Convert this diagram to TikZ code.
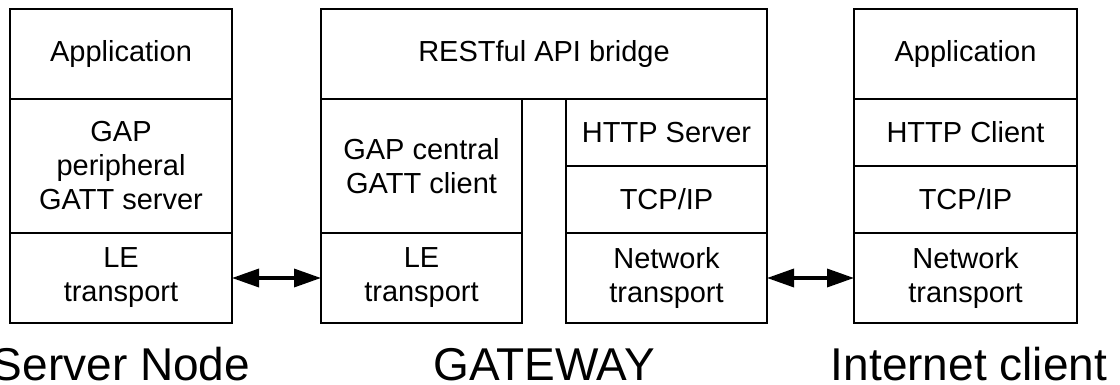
\documentclass[tikz,border=0pt]{standalone}
\usepackage{fontspec}
\setmainfont{Liberation Sans}
\usetikzlibrary{arrows.meta}
\begin{document}
\begin{tikzpicture}[x=1pt,y=-1pt,
  layer/.style={draw, line width=1.2pt, inner sep=0pt, outer sep=0pt, align=center,
    font=\fontsize{29}{34}\selectfont},
  link/.style={line width=3.5pt, {Triangle[length=27pt,width=18pt]}-{Triangle[length=27pt,width=18pt]}},
  title/.style={font=\fontsize{46}{52}\selectfont, anchor=base, inner sep=0pt, outer sep=0pt}]
\useasboundingbox (0,0) rectangle (1120,385);
% Server node
\node[layer, minimum width=222pt, minimum height=90pt]  (sapp) at (121,54)  {Application};
\node[layer, minimum width=222pt, minimum height=134pt] (sgap) at (121,166) {GAP\\peripheral\\GATT server};
\node[layer, minimum width=222pt, minimum height=90pt]  (sle)  at (121,278) {LE\\transport};
% Gateway
\node[layer, minimum width=446pt, minimum height=90pt]  (grest) at (544,54)    {RESTful API bridge};
\node[layer, minimum width=201pt, minimum height=134pt] (ggap)  at (421.5,166) {GAP central\\GATT client};
\node[layer, minimum width=201pt, minimum height=90pt]  (gle)   at (421.5,278) {LE\\transport};
\node[layer, minimum width=201pt, minimum height=67pt]  (ghttp) at (666.5,132.5) {HTTP Server};
\node[layer, minimum width=201pt, minimum height=67pt]  (gtcp)  at (666.5,199.5) {TCP/IP};
\node[layer, minimum width=201pt, minimum height=90pt]  (gnet)  at (666.5,278)   {Network\\transport};
% Internet client
\node[layer, minimum width=223pt, minimum height=90pt] (capp)  at (965.5,54)    {Application};
\node[layer, minimum width=223pt, minimum height=67pt] (chttp) at (965.5,132.5) {HTTP Client};
\node[layer, minimum width=223pt, minimum height=67pt] (ctcp)  at (965.5,199.5) {TCP/IP};
\node[layer, minimum width=223pt, minimum height=90pt] (cnet)  at (965.5,278)   {Network\\transport};
% links
\draw[link] (sle.east) -- (gle.west);
\draw[link] (gnet.east) -- (cnet.west);
% titles
\node[title] (tserver)  at (121,380)   {Server Node};
\node[title] (tgateway) at (544,380)   {GATEWAY};
\node[title] (tclient)  at (969,380) {Internet client};
\end{tikzpicture}
\end{document}
